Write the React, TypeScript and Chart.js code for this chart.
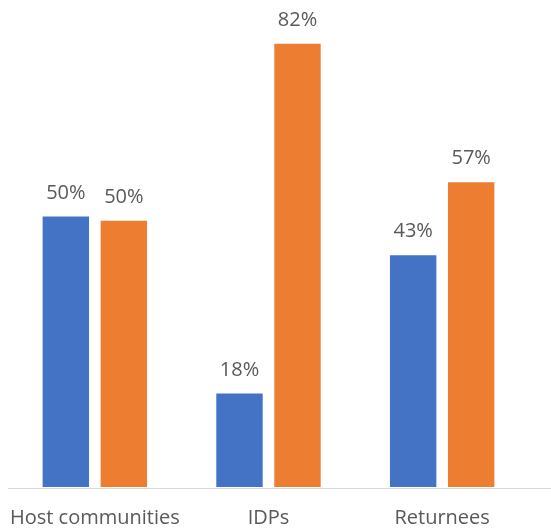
import React, { useEffect, useRef } from "react";
import { Chart, registerables } from "chart.js";

Chart.register(...registerables);

const categories = ["Host communities", "IDPs", "Returnees"];
const seriesA = [50.4, 17.4, 43.2];
const seriesB = [49.6, 82.6, 56.8];
const labelsA = ["50%", "18%", "43%"];
const labelsB = ["50%", "82%", "57%"];

const FONT = "'Open Sans', sans-serif";
const TEXT = "#595959";

const valueLabels = {
  id: "valueLabels",
  afterDatasetsDraw(chart: any) {
    const ctx = chart.ctx;
    ctx.save();
    ctx.font = `20px ${FONT}`;
    ctx.fillStyle = TEXT;
    ctx.textAlign = "center";
    ctx.textBaseline = "alphabetic";
    const lbls = [labelsA, labelsB];
    chart.data.datasets.forEach((_: any, di: number) => {
      const meta = chart.getDatasetMeta(di);
      meta.data.forEach((bar: any, i: number) => {
        ctx.fillText(lbls[di][i], bar.x, bar.y - 18);
      });
    });
    ctx.restore();
  },
};

const axisLine = {
  id: "axisLine",
  afterDatasetsDraw(chart: any) {
    const ctx = chart.ctx;
    const y = Math.round(chart.chartArea.bottom) + 1.5;
    ctx.save();
    ctx.strokeStyle = "#d9d9d9";
    ctx.lineWidth = 1;
    ctx.beginPath();
    ctx.moveTo(8, y);
    ctx.lineTo(chart.width, y);
    ctx.stroke();
    ctx.restore();
  },
};

export default function App() {
  const ref = useRef<HTMLCanvasElement>(null);
  useEffect(() => {
    if (!ref.current) return;
    const chart = new Chart(ref.current, {
      type: "bar",
      data: {
        labels: categories,
        datasets: [
          { data: seriesA, backgroundColor: "#4472C4" },
          { data: seriesB, backgroundColor: "#ED7D31" },
        ],
      },
      options: {
        animation: false,
        responsive: false,
        maintainAspectRatio: false,
        layout: { padding: { top: 4, left: 8, right: 22, bottom: 0 } },
        plugins: { legend: { display: false }, tooltip: { enabled: false } },
        datasets: { bar: { categoryPercentage: 0.668, barPercentage: 0.8 } },
        scales: {
          x: {
            grid: { display: false, drawTicks: false },
            border: { display: false },
            ticks: {
              color: TEXT,
              font: { family: FONT, size: 20 },
              padding: 19,
              maxRotation: 0,
              minRotation: 0,
              autoSkip: false,
            },
            afterFit: (scale: any) => {
              scale.height = 44;
              scale.paddingLeft = 0;
              scale.paddingRight = 0;
            },
          },
          y: { display: false, min: 0, max: 90 },
        },
      },
      plugins: [valueLabels, axisLine],
    });
    return () => chart.destroy();
  }, []);
  return (
    <div style={{ position: "fixed", left: 0, top: 0, width: 551, height: 531, background: "#fff" }}>
      <canvas ref={ref} width={551} height={531} style={{ display: "block" }} />
    </div>
  );
}
